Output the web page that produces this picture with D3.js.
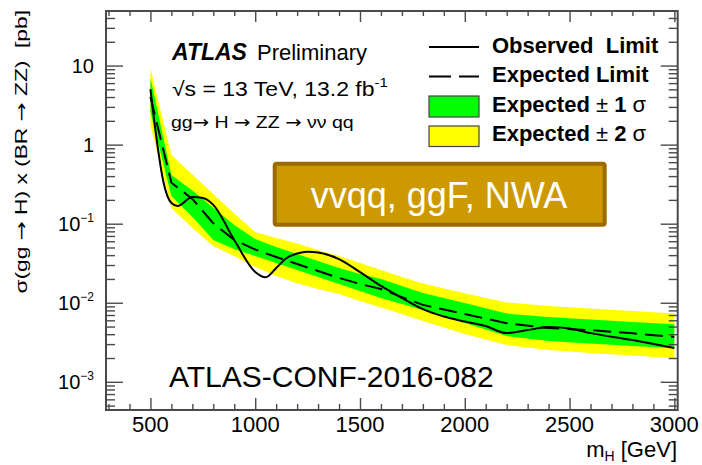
<!DOCTYPE html>
<html>
<head>
<meta charset="utf-8">
<script src="https://cdn.jsdelivr.net/npm/d3@7"></script>
<style>
body { margin: 0; background: #fff; }
text { font-family: "Liberation Sans", Arial, sans-serif; white-space: pre; }
.arr { font-family: "DejaVu Sans", sans-serif; }
</style>
</head>
<body>
<div id="chart"></div>
<script>
// expected limit and bands (pb) vs mass (GeV)
var masses   = [500, 600, 700, 800, 900, 1000, 1100, 1200, 1300, 1400, 1500, 1600, 1700, 1800, 2000, 2200, 2400, 2600, 2800, 3000];
var expected = [4.0, 0.33, 0.206, 0.101, 0.0622, 0.0471, 0.0379, 0.0309, 0.0252, 0.0206, 0.0173, 0.0149, 0.0118, 0.0094, 0.0072, 0.0055, 0.0048, 0.0045, 0.0041, 0.0037];
var plus2    = [9.27, 0.741, 0.420, 0.238, 0.135, 0.0785, 0.0659, 0.0561, 0.0464, 0.0390, 0.0318, 0.0259, 0.0211, 0.0175, 0.0132, 0.0101, 0.00908, 0.00845, 0.00785, 0.00730];
var plus1    = [6.99, 0.413, 0.262, 0.159, 0.0964, 0.0640, 0.0507, 0.0413, 0.0337, 0.0275, 0.0231, 0.0200, 0.0163, 0.0133, 0.00991, 0.00730, 0.00659, 0.00613, 0.00570, 0.00533];
var minus1   = [2.59, 0.224, 0.122, 0.0622, 0.0479, 0.0390, 0.0318, 0.0259, 0.0211, 0.0173, 0.0141, 0.0115, 0.00963, 0.00809, 0.00554, 0.00379, 0.00328, 0.00305, 0.00283, 0.00265];
var minus2   = [1.78, 0.158, 0.0883, 0.0522, 0.0390, 0.0283, 0.0218, 0.0177, 0.0149, 0.0129, 0.0105, 0.00869, 0.00719, 0.00586, 0.00402, 0.00292, 0.00252, 0.00231, 0.00215, 0.00198];

// observed limit
var obsMass  = [500, 530, 560, 600, 630, 700, 750, 800, 900, 1000, 1050, 1100, 1150, 1200, 1250, 1300, 1400, 1500, 1600, 1700, 1800, 1900, 2000, 2100, 2200, 2300, 2400, 2500, 2600, 2800, 3000];
var observed = [5.03, 1.15, 0.357, 0.183, 0.168, 0.218, 0.211, 0.173, 0.0622, 0.0245, 0.0210, 0.0275, 0.0368, 0.0420, 0.0443, 0.0432, 0.0357, 0.0244, 0.0163, 0.0115, 0.0083, 0.00669, 0.00578, 0.00507, 0.00413, 0.00451, 0.00492, 0.00471, 0.00413, 0.00337, 0.00267];

// axis ticks
var xTicks = [500, 1000, 1500, 2000, 2500, 3000];
var yTicks = [1e-3, 1e-2, 1e-1, 1, 10];
var yTickLabels = ["10", "10", "10", "1", "10"];
var yTickExp = ["\u22123", "\u22122", "\u22121", "", ""];

var w = 702, h = 465;
var pLeft = 106, pRight = 677.7, pTop = 11, pBottom = 410;

var x = d3.scaleLinear().domain([288, 3016]).range([pLeft, pRight]);
var y = d3.scaleLog().domain([4.4e-4, 49]).range([pBottom, pTop]);

var xMinor = d3.range(300, 3001, 100).filter(function(v) { return v % 500 != 0; });
var yMinor = [];
d3.range(-4, 2).forEach(function(k) {
    d3.range(2, 10).forEach(function(m) {
        var v = m * Math.pow(10, k);
        if (v > 4.4e-4 && v < 49) yMinor.push(v);
    });
});

var svg = d3.select("#chart")
    .append("svg")
    .attr("width", w)
    .attr("height", h);

var bandData = masses.map(function(m, i) {
    return {m: m, e: expected[i], p1: plus1[i], m1: minus1[i], p2: plus2[i], m2: minus2[i]};
});

var band2 = d3.area()
    .x(function(d) { return x(d.m); })
    .y0(function(d) { return y(d.m2); })
    .y1(function(d) { return y(d.p2); });
var band1 = d3.area()
    .x(function(d) { return x(d.m); })
    .y0(function(d) { return y(d.m1); })
    .y1(function(d) { return y(d.p1); });

svg.append("path").attr("d", band2(bandData)).attr("fill", "#ffff00");
svg.append("path").attr("d", band1(bandData)).attr("fill", "#00ff00");

var expLine = d3.line()
    .x(function(d) { return x(d.m); })
    .y(function(d) { return y(d.e); });
svg.append("path")
    .attr("d", expLine(bandData))
    .attr("fill", "none")
    .attr("stroke", "#000")
    .attr("stroke-width", 2)
    .attr("stroke-dasharray", "18,8");

var obsLine = d3.line()
    .curve(d3.curveMonotoneX)
    .x(function(d, i) { return x(obsMass[i]); })
    .y(function(d) { return y(d); });
svg.append("path")
    .attr("d", obsLine(observed))
    .attr("fill", "none")
    .attr("stroke", "#000")
    .attr("stroke-width", 2);

// axes: ticks inside the frame, like ROOT
var tickColor = "#4a4a4a";
function styleAxis(g) {
    g.select(".domain").remove();
    g.selectAll("line").attr("stroke", tickColor).attr("stroke-width", 1.4);
    g.selectAll("text").remove();
}
svg.append("g").attr("transform", "translate(0," + pBottom + ")")
    .call(d3.axisBottom(x).tickValues(xTicks).tickSize(-12)).call(styleAxis);
svg.append("g").attr("transform", "translate(0," + pBottom + ")")
    .call(d3.axisBottom(x).tickValues(xMinor).tickSize(-6)).call(styleAxis);
svg.append("g").attr("transform", "translate(0," + pTop + ")")
    .call(d3.axisTop(x).tickValues(xTicks).tickSize(-11)).call(styleAxis);
svg.append("g").attr("transform", "translate(0," + pTop + ")")
    .call(d3.axisTop(x).tickValues(xMinor).tickSize(-5)).call(styleAxis);
svg.append("g").attr("transform", "translate(" + pLeft + ",0)")
    .call(d3.axisLeft(y).tickValues(yTicks).tickSize(-17)).call(styleAxis);
svg.append("g").attr("transform", "translate(" + pLeft + ",0)")
    .call(d3.axisLeft(y).tickValues(yMinor).tickSize(-9)).call(styleAxis);
svg.append("g").attr("transform", "translate(" + pRight + ",0)")
    .call(d3.axisRight(y).tickValues(yTicks).tickSize(-17)).call(styleAxis);
svg.append("g").attr("transform", "translate(" + pRight + ",0)")
    .call(d3.axisRight(y).tickValues(yMinor).tickSize(-9)).call(styleAxis);

svg.append("rect")
    .attr("x", pLeft).attr("y", pTop)
    .attr("width", pRight - pLeft).attr("height", pBottom - pTop)
    .attr("fill", "none")
    .attr("stroke", tickColor)
    .attr("stroke-width", 2);

// tick labels
svg.selectAll(".xlab")
    .data(xTicks)
    .enter()
    .append("text")
    .attr("class", "xlab")
    .attr("x", function(d) { return x(d); })
    .attr("y", 432)
    .attr("text-anchor", "middle")
    .style("font-size", "22px")
    .text(function(d) { return d; });

var ylab = svg.selectAll(".ylab")
    .data(yTicks)
    .enter()
    .append("text")
    .attr("class", "ylab")
    .attr("x", 94)
    .attr("y", function(d) { return y(d) + 7; })
    .attr("text-anchor", "end")
    .style("font-size", "20px");
ylab.append("tspan").text(function(d, i) { return yTickLabels[i]; });
ylab.append("tspan")
    .attr("dy", -9)
    .style("font-size", "12px")
    .text(function(d, i) { return yTickExp[i]; });

// axis titles
var xt = svg.append("text")
    .attr("x", 677).attr("y", 457)
    .attr("text-anchor", "end")
    .style("font-size", "22px");
xt.append("tspan").text("m");
xt.append("tspan").attr("dy", 4).style("font-size", "14px").text("H");
xt.append("tspan").attr("dy", -4).text(" [GeV]");

// text with arrows drawn in a font that has a full-size arrow glyph
function arrowText(sel, parts) {
    parts.forEach(function(p) {
        if (p == "\u2192") sel.append("tspan").attr("class", "arr").text(p);
        else sel.append("tspan").text(p);
    });
}

// the ROOT texts are a little stretched along their direction
var yt = svg.append("text")
    .attr("transform", "translate(27,10) rotate(-90) scale(1.34,1)")
    .attr("text-anchor", "end")
    .style("font-size", "17px");
arrowText(yt, ["\u03c3(gg ", "\u2192", " H) x (BR ", "\u2192", " ZZ)  [pb]"]);

// ATLAS label
svg.append("text")
    .attr("x", 172).attr("y", 60)
    .style("font-size", "23px")
    .style("font-weight", "bold")
    .style("font-style", "italic")
    .text("ATLAS");
svg.append("text")
    .attr("x", 257).attr("y", 60)
    .style("font-size", "22px")
    .text("Preliminary");
var lum = svg.append("text")
    .attr("transform", "translate(172,96) scale(1.15,1)")
    .style("font-size", "20px");
lum.append("tspan").text("\u221as = 13 TeV, 13.2 fb");
lum.append("tspan").attr("dy", -9).style("font-size", "13px").text("-1");
var proc = svg.append("text")
    .attr("transform", "translate(171,128) scale(1.15,1)")
    .style("font-size", "17px");
arrowText(proc, ["gg", "\u2192", " H ", "\u2192", " ZZ ", "\u2192", " \u03bd\u03bd qq"]);

// legend
var lx = 429, ltx = 492;
svg.append("line").attr("x1", lx).attr("x2", lx + 50).attr("y1", 47).attr("y2", 47)
    .attr("stroke", "#000").attr("stroke-width", 2);
svg.append("line").attr("x1", lx).attr("x2", lx + 50).attr("y1", 76.5).attr("y2", 76.5)
    .attr("stroke", "#000").attr("stroke-width", 2).attr("stroke-dasharray", "22,8");
svg.append("rect").attr("x", lx).attr("y", 96).attr("width", 50).attr("height", 21)
    .attr("fill", "#00ff00").attr("stroke", "#444").attr("stroke-width", 1.2);
svg.append("rect").attr("x", lx).attr("y", 126).attr("width", 50).attr("height", 20.5)
    .attr("fill", "#ffff00").attr("stroke", "#444").attr("stroke-width", 1.2);

svg.append("text").attr("x", ltx).attr("y", 53)
    .style("font-size", "22px").style("font-weight", "bold")
    .text("Observed  Limit");
svg.append("text").attr("x", ltx).attr("y", 82)
    .style("font-size", "22px").style("font-weight", "bold")
    .text("Expected Limit");
[["1", 111.5], ["2", 141]].forEach(function(r) {
    var t = svg.append("text").attr("x", ltx).attr("y", r[1]).style("font-size", "22px");
    t.append("tspan").style("font-weight", "bold").text("Expected ");
    t.append("tspan").text("\u00b1 ");
    t.append("tspan").style("font-weight", "bold").text(r[0] + " ");
    t.append("tspan").text("\u03c3");
});

// analysis tag box
svg.append("rect")
    .attr("x", 274.7).attr("y", 163.7)
    .attr("width", 330).attr("height", 61)
    .attr("rx", 2)
    .attr("fill", "#cc9900")
    .attr("stroke", "#9c6b00")
    .attr("stroke-width", 4);
svg.append("text")
    .attr("x", 439).attr("y", 208)
    .attr("text-anchor", "middle")
    .attr("fill", "#fff")
    .style("font-size", "36px")
    .text("vvqq, ggF, NWA");

svg.append("text")
    .attr("x", 169).attr("y", 387)
    .style("font-size", "30px")
    .text("ATLAS-CONF-2016-082");
</script>
</body>
</html>
